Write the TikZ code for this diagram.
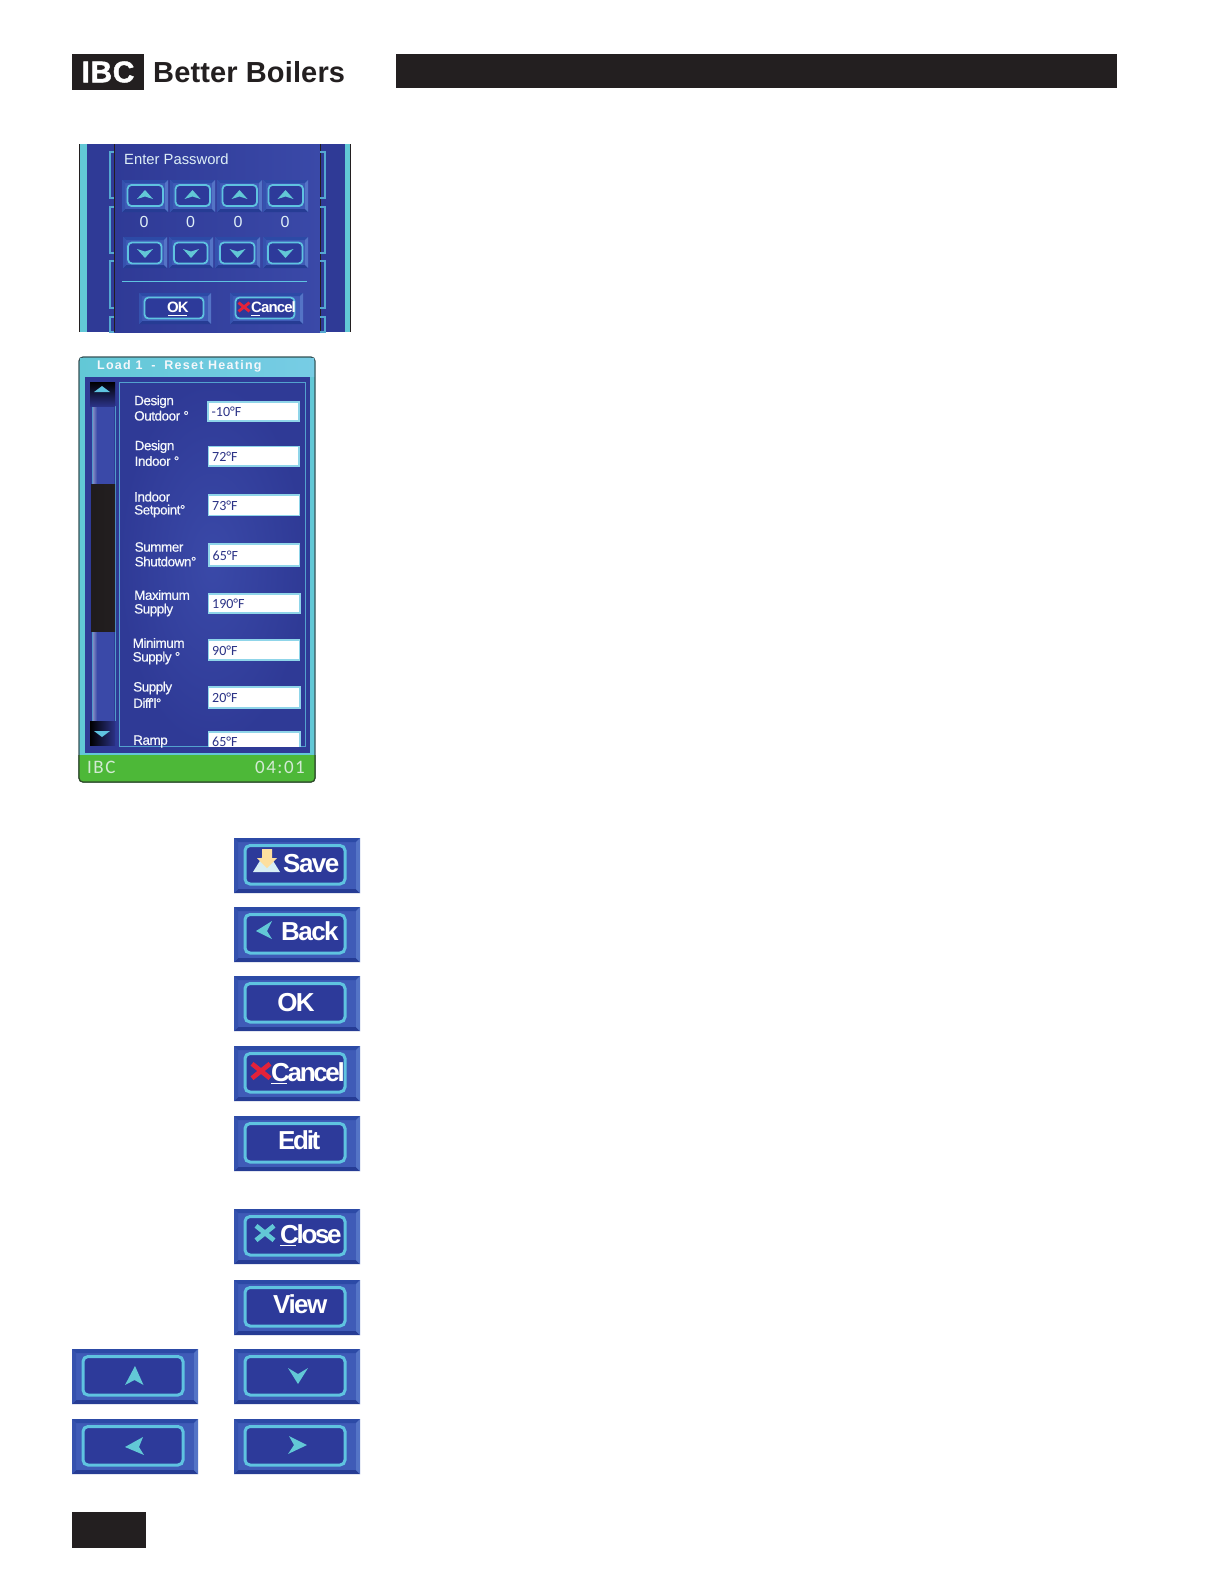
\documentclass[tikz,border=0pt]{standalone}
\usepackage{fontspec}
\setmainfont{Liberation Sans}
\newfontfamily\labfont[LetterSpace=-3.5,FakeBold=0.5]{Liberation Sans}
\newfontfamily\logofont[LetterSpace=0.5]{Liberation Sans Bold}
\newfontfamily\ibcfont[LetterSpace=2,FakeBold=1.5]{Liberation Sans Bold}
\newfontfamily\btnfont[LetterSpace=-6]{Liberation Sans Bold}
\newfontfamily\btntight[LetterSpace=-9]{Liberation Sans Bold}
\newfontfamily\titlefont[LetterSpace=10]{Liberation Sans Bold}
\newfontfamily\valfont{Carlito}
\newfontfamily\stfont[LetterSpace=8]{Carlito}
\definecolor{ink}{HTML}{231F20}
\definecolor{teal}{HTML}{62C8D6}
\definecolor{ring}{HTML}{5FC3E0}
\definecolor{btnface}{HTML}{3F5BB7}
\definecolor{btndark}{HTML}{2D3A9A}
\definecolor{bevT}{HTML}{2C4AA6}
\definecolor{bevB}{HTML}{263C94}
\definecolor{bevL}{HTML}{3552AE}
\definecolor{bevR}{HTML}{5474C6}
\definecolor{panel}{HTML}{2F3A96}
\definecolor{panelB}{HTML}{3A49A8}
\definecolor{green}{HTML}{4DB838}
\definecolor{navy}{HTML}{2B3286}
\definecolor{xred}{HTML}{E3223A}
\definecolor{lab}{HTML}{F4F7FB}
\newcommand{\fs}[1]{\fontsize{#1}{#1}\selectfont}
\def\rw{3}
% \btnbox{x0}{y0}{x1}{y1}{bevel}{inset L}{inset T}{inset R}{inset B}
\newcommand{\btnbox}[9]{%
  \fill[btnface] ({#1},{#2}) rectangle ({#3},{#4});
  \fill[bevT] ({#1},{#2}) -- ({#3},{#2}) -- ({#3-#5},{#2+#5}) -- ({#1+#5},{#2+#5}) -- cycle;
  \fill[bevB] ({#1},{#4}) -- ({#3},{#4}) -- ({#3-#5},{#4-#5}) -- ({#1+#5},{#4-#5}) -- cycle;
  \fill[bevL] ({#1},{#2}) -- ({#1+#5},{#2+#5}) -- ({#1+#5},{#4-#5}) -- ({#1},{#4}) -- cycle;
  \fill[bevR] ({#3},{#2}) -- ({#3-#5},{#2+#5}) -- ({#3-#5},{#4-#5}) -- ({#3},{#4}) -- cycle;
  \draw[ring,fill=btndark,line width=\rw,rounded corners=#5+1] ({#1+#6},{#2+#7}) rectangle ({#3-#8},{#4-#9});
}
\newcommand{\bigbtn}[2]{\btnbox{#1}{#2}{#1+126}{#2+55}{4}{11}{7.5}{15}{9}}
\newcommand{\wideup}[2]{\fill[teal] ({#1},{#2}) -- ++(8,9) -- ++(-8,-2.5) -- ++(-8,2.5) -- cycle;}
\newcommand{\widedn}[2]{\fill[teal] ({#1},{#2}) -- ++(8,-9) -- ++(-8,2.5) -- ++(-8,-2.5) -- cycle;}
\newcommand{\xmark}[4]{\draw[#4,line width=#3*.26,line cap=butt] ({#1-#3/2},{#2-#3*.4}) -- ({#1+#3/2},{#2+#3*.4}) ({#1-#3/2},{#2+#3*.4}) -- ({#1+#3/2},{#2-#3*.4});}
\newcommand{\field}[5]{% x0 y0 x1 y1 text
  \fill[white,draw=ring!70!white,line width=1.2] (#1,#2) rectangle (#3,#4);
  \node[anchor=west,inner sep=0,text=navy,font=\valfont\fs{14}] at ({#1+3.5},{(#2+#4)/2+.6}) {#5};
}
\newcommand{\twolab}[5]{% x y1 y2 a b
  \node[anchor=west,inner sep=0,text=lab,font=\labfont\fs{13.5}] at (#1,#2) {#4};
  \node[anchor=west,inner sep=0,text=lab,font=\labfont\fs{13.5}] at (#1,#3) {#5};
}
\begin{document}
\begin{tikzpicture}[x=1pt,y=-1pt]
\useasboundingbox (0,0) rectangle (1224,1584);
\fill[white] (0,0) rectangle (1224,1584);
% header
\fill[ink] (72,54) rectangle (144,90);
\node[inner sep=0,text=white,font=\ibcfont\fs{30}] (ibc) at (108,72) {IBC};
\node[anchor=west,inner sep=0,text=ink,font=\logofont\fs{29}] (brand) at (153,72.5) {Better Boilers};
\fill[ink] (396,54) rectangle (1117,88);
% password screen
\fill[teal] (79,144) rectangle (351,332);
\fill[panel] (87,144) rectangle (345,332);
\shade[left color=panel,right color=panelB] (114,144) rectangle (320,332);
\draw[ink,line width=1] (79.5,144) -- (79.5,332) (350.5,144) -- (350.5,332) (114,144) -- (114,332) (320,144) -- (320,332);
\foreach \a/\b in {152/198,207/253,261/308,317/332}{
  \draw[ring!80!panel,line width=1.2] (114,\a) -- (110,\a) -- (110,\b) -- (114,\b);
  \draw[ring!80!panel,line width=1.2] (320,\a) -- (325,\a) -- (325,\b) -- (320,\b);
}
\node[anchor=west,inner sep=0,text=lab!85!ring,font=\fs{14.8}] (pw) at (124,159.5) {Enter Password};
\def\rw{1.8}
\foreach \p/\q in {122/168,170/215,217/262,263/308}{
  \btnbox{\p}{180}{\q}{212}{3}{5.5}{5}{5}{6}
  \wideup{(\p+\q)/2}{190}
}
\foreach \p/\q in {123/167,169/213,215/260,263/308}{
  \btnbox{\p}{237}{\q}{268}{3}{5}{5.5}{5.5}{4.5}
  \widedn{(\p+\q)/2}{258}
}
\foreach \p in {144,190.5,238,285}{
  \node[inner sep=0,text=lab!85!ring,font=\fs{16}] at (\p,222) {0};
}
\draw[ring,line width=.8] (122,281) -- (307,281);
\btnbox{139}{293}{211}{324}{3}{5.5}{4.5}{7.5}{5.5}
\node[inner sep=0,text=white,font=\btnfont\fs{15}] (okS) at (178,307) {OK};
\draw[white,line width=.8] (168,315) -- (187,315);
\btnbox{230}{293}{303}{324}{3}{5.5}{4.5}{8.5}{5.5}
\xmark{244}{307}{11}{xred}
\node[anchor=west,inner sep=0,text=white,font=\btnfont\fs{15}] (caS) at (251,307) {Cancel};
\draw[white,line width=.7] (251,315) -- (260,315);
\def\rw{3}
% load screen
\fill[teal,draw=ink!70!teal,line width=1.2,rounded corners=4] (79,357) rectangle (315,782);
\shade[left color=teal,right color=ring!85!white] (80,358.5) rectangle (314,376);
\node[anchor=west,inner sep=0,text=lab,font=\titlefont\fs{12.5}] (lt) at (97,366.5) {Load 1\,\, -\,\, Reset Heating};
\fill[panel] (85,377) rectangle (310,753);
\shade[inner color=panelB,outer color=panel] (119,382) rectangle (305,746);
\draw[ring!75!panel,line width=.9] (119,382) rectangle (305,746);
% scrollbar
\shade[left color=lab!50!panel,right color=panelB] (92,406) rectangle (97,721);
\fill[panelB] (97,406) rectangle (114,721);
\draw[ring!70!panel,line width=.7] (92,406) -- (92,721) (115,406) -- (115,721);
\shade[left color=ink!90!black,right color=ink] (91,484) rectangle (115,631);
\shade[top color=black,bottom color=navy] (90,382) rectangle (115,406);
\shade[left color=black,right color=navy] (90,721) rectangle (115,745);
\fill[ring] (102,386) -- (110,392) -- (94,392) -- cycle;
\fill[ring] (102,737) -- (110,731) -- (94,731) -- cycle;
% labels
\twolab{134}{401.7}{415.7}{Design}{Outdoor °}
\twolab{134.5}{446.7}{461}{Design}{Indoor °}
\twolab{134}{496.7}{511}{Indoor}{Setpoint°}
\twolab{134.5}{547}{561.5}{Summer}{Shutdown°}
\twolab{134}{595}{610}{Maximum}{Supply}
\twolab{132.5}{643}{658}{Minimum}{Supply °}
\twolab{133}{688}{703}{Supply}{Diff'l°}
\node[anchor=west,inner sep=0,text=lab,font=\labfont\fs{13.5}] (rp) at (133,741.5) {Ramp};
\field{208}{402}{299}{421}{-10°F}
\field{208.5}{446.5}{299}{466}{72°F}
\field{208.5}{495}{299.5}{515.5}{73°F}
\field{209}{544}{299.5}{566}{65°F}
\field{208.5}{594}{300}{613}{190°F}
\field{208.5}{640}{299.5}{660}{90°F}
\field{208.5}{687}{300}{708}{20°F}
\begin{scope}
\clip (119,382) rectangle (305,746);
\field{208.5}{732}{300}{760}{}
\node[anchor=west,inner sep=0,text=navy,font=\valfont\fs{14}] (v8) at (212,741.5) {65°F};
\end{scope}
\begin{scope}
\clip (70,755) rectangle (325,790);
\fill[green,draw=ink!70!green,line width=1.2,rounded corners=4] (79,700) rectangle (315,782);
\end{scope}
\node[anchor=west,inner sep=0,text=lab!80!green,font=\stfont\fs{19}] (st1) at (87,767) {IBC};
\node[anchor=east,inner sep=0,text=lab!80!green,font=\stfont\fs{19}] (st2) at (305,767) {04:01};
% big buttons
\bigbtn{234}{838}
\fill[lab!80!teal] (253,872) -- (266,851) -- (267,851) -- (280,872) -- cycle;
\fill[yellow!35!orange!35!white] (262,849) -- (272,849) -- (272,858) -- (277,858) -- (267,868) -- (257,858) -- (262,858) -- cycle;
\node[anchor=west,inner sep=0,text=white,font=\btnfont\fs{26}] (save) at (283,863.5) {Save};
\bigbtn{234}{907}
\fill[teal] (256,931) -- (272,921) -- (267,931) -- (272,939) -- cycle;
\node[anchor=west,inner sep=0,text=white,font=\btnfont\fs{26}] (back) at (281,931) {Back};
\bigbtn{234}{976}
\node[inner sep=0,text=white,font=\btnfont\fs{26}] (ok) at (296,1002.5) {OK};
\bigbtn{234}{1046}
\xmark{261}{1071}{18}{xred}
\node[anchor=west,inner sep=0,text=white,font=\btntight\fs{26}] (cancel) at (271,1072) {Cancel};
\draw[white,line width=1] (271,1083) -- (287,1083);
\bigbtn{234}{1116}
\node[anchor=west,inner sep=0,text=white,font=\btntight\fs{26}] (edit) at (278,1140) {Edit};
\bigbtn{234}{1209}
\xmark{265}{1233}{18}{teal}
\node[anchor=west,inner sep=0,text=white,font=\btntight\fs{26}] (close) at (280,1234) {Close};
\draw[white,line width=1] (280,1245) -- (296,1245);
\bigbtn{234}{1280}
\node[anchor=west,inner sep=0,text=white,font=\btnfont\fs{26}] (view) at (273,1304) {View};
\bigbtn{72}{1349}
\fill[teal] (135,1366) -- (143.5,1385) -- (134.5,1380) -- (125,1385) -- cycle;
\bigbtn{234}{1349}
\fill[teal] (288,1368) -- (298,1374) -- (308,1368) -- (298,1384) -- cycle;
\bigbtn{72}{1419}
\fill[teal] (125,1447) -- (143,1437) -- (139,1447) -- (144,1455) -- cycle;
\bigbtn{234}{1419}
\fill[teal] (289,1436) -- (307,1445) -- (288,1454) -- (294,1445) -- cycle;
% footer
\fill[ink] (72,1512) rectangle (146,1548);
\end{tikzpicture}
\end{document}
